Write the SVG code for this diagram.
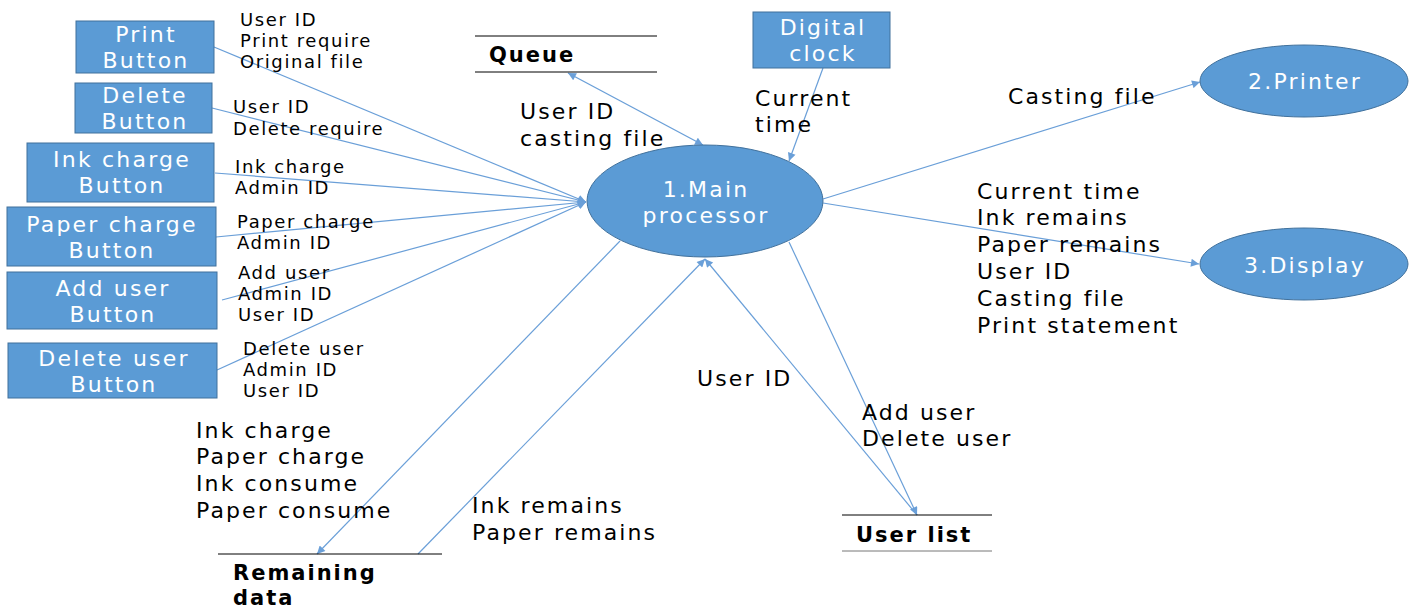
<svg xmlns="http://www.w3.org/2000/svg" width="1419" height="615" viewBox="0 0 1419 615">
<defs>
<style>
.box{fill:#5B9BD5;stroke:#41719C;stroke-width:1}
.btn{fill:#fff;font-family:"DejaVu Sans","Noto Sans",sans-serif;font-size:22px;letter-spacing:2.2px;text-anchor:middle}
.sm{fill:#000;font-family:"DejaVu Sans","Noto Sans",sans-serif;font-size:18px;letter-spacing:1.6px}
.lg{fill:#000;font-family:"DejaVu Sans","Noto Sans",sans-serif;font-size:22px;letter-spacing:2.1px}
.bd{fill:#000;font-family:"DejaVu Sans","Noto Sans",sans-serif;font-size:21px;font-weight:bold;letter-spacing:2px}
.flow{stroke:#6A9FD8;stroke-width:1.2;fill:none}
.store{stroke:#000;stroke-width:1}
</style>
<marker id="ah" viewBox="0 0 10 10" refX="10" refY="5" markerWidth="10" markerHeight="8" markerUnits="userSpaceOnUse" orient="auto-start-reverse">
<path d="M0,0 L10,5 L0,10 z" fill="#6A9FD8"/>
</marker>
</defs>
<rect width="1419" height="615" fill="#fff"/>

<g id="connectors">
<line class="flow" x1="214" y1="47" x2="586" y2="202" marker-end="url(#ah)"/>
<line class="flow" x1="212" y1="108" x2="586" y2="202" marker-end="url(#ah)"/>
<line class="flow" x1="215" y1="173" x2="586" y2="202" marker-end="url(#ah)"/>
<line class="flow" x1="216" y1="237" x2="586" y2="202" marker-end="url(#ah)"/>
<line class="flow" x1="222" y1="300" x2="586" y2="202" marker-end="url(#ah)"/>
<line class="flow" x1="217" y1="370" x2="586" y2="202" marker-end="url(#ah)"/>
<line class="flow" x1="568" y1="73" x2="703" y2="145" marker-start="url(#ah)" marker-end="url(#ah)"/>
<line class="flow" x1="823" y1="68" x2="789" y2="161" marker-end="url(#ah)"/>
<line class="flow" x1="823" y1="199" x2="1200" y2="82" marker-end="url(#ah)"/>
<line class="flow" x1="823" y1="203" x2="1199" y2="264" marker-end="url(#ah)"/>
<line class="flow" x1="620" y1="241" x2="317" y2="554" marker-end="url(#ah)"/>
<line class="flow" x1="418" y1="554" x2="705" y2="259" marker-end="url(#ah)"/>
<line class="flow" x1="917" y1="515" x2="705" y2="259" marker-end="url(#ah)"/>
<line class="flow" x1="789" y1="242" x2="917" y2="515" marker-end="url(#ah)"/>
</g>

<g id="print-button">
<rect class="box" x="76" y="21" width="138" height="52"/>
<text class="btn" x="146" y="42">Print</text>
<text class="btn" x="146" y="68">Button</text>
</g>
<g id="delete-button">
<rect class="box" x="75" y="83" width="137" height="50"/>
<text class="btn" x="145" y="103">Delete</text>
<text class="btn" x="145" y="129">Button</text>
</g>
<g id="ink-charge-button">
<rect class="box" x="27" y="143" width="187" height="59"/>
<text class="btn" x="122" y="167">Ink charge</text>
<text class="btn" x="122" y="193">Button</text>
</g>
<g id="paper-charge-button">
<rect class="box" x="7" y="207" width="209" height="59"/>
<text class="btn" x="112" y="232">Paper charge</text>
<text class="btn" x="112" y="258">Button</text>
</g>
<g id="add-user-button">
<rect class="box" x="7" y="272" width="210" height="57"/>
<text class="btn" x="113" y="296">Add user</text>
<text class="btn" x="113" y="322">Button</text>
</g>
<g id="delete-user-button">
<rect class="box" x="8" y="343" width="209" height="55"/>
<text class="btn" x="114" y="366">Delete user</text>
<text class="btn" x="114" y="392">Button</text>
</g>
<g id="digital-clock">
<rect class="box" x="753" y="12" width="137" height="56"/>
<text class="btn" x="823" y="35">Digital</text>
<text class="btn" x="823" y="61">clock</text>
</g>
<g id="main-processor">
<ellipse class="box" cx="705" cy="201" rx="118" ry="56"/>
<text class="btn" x="706" y="197">1.Main</text>
<text class="btn" x="706" y="223">processor</text>
</g>
<g id="printer">
<ellipse class="box" cx="1304" cy="81" rx="104" ry="36"/>
<text class="btn" x="1305" y="89">2.Printer</text>
</g>
<g id="display">
<ellipse class="box" cx="1304" cy="264" rx="104" ry="36"/>
<text class="btn" x="1305" y="273">3.Display</text>
</g>
<g id="queue">
<line class="store" x1="475" y1="36" x2="657" y2="36"/>
<line class="store" x1="475" y1="72" x2="657" y2="72"/>
<text class="bd" x="489" y="62">Queue</text>
</g>
<g id="remaining-data">
<line class="store" x1="218" y1="554" x2="442" y2="554"/>
<text class="bd" x="233" y="580">Remaining</text>
<text class="bd" x="233" y="605">data</text>
</g>
<g id="user-list">
<line class="store" x1="842" y1="515" x2="992" y2="515"/>
<line x1="842" y1="551" x2="992" y2="551" stroke="#777" stroke-width="1"/>
<text class="bd" x="856" y="542">User list</text>
</g>

<g id="labels">
<text class="sm" x="240" y="26">User ID</text>
<text class="sm" x="240" y="47">Print require</text>
<text class="sm" x="240" y="68">Original file</text>
<text class="sm" x="233" y="113">User ID</text>
<text class="sm" x="233" y="135">Delete require</text>
<text class="sm" x="235" y="173">Ink charge</text>
<text class="sm" x="235" y="194">Admin ID</text>
<text class="sm" x="237" y="228">Paper charge</text>
<text class="sm" x="237" y="249">Admin ID</text>
<text class="sm" x="238" y="279">Add user</text>
<text class="sm" x="238" y="300">Admin ID</text>
<text class="sm" x="238" y="321">User ID</text>
<text class="sm" x="243" y="355">Delete user</text>
<text class="sm" x="243" y="376">Admin ID</text>
<text class="sm" x="243" y="397">User ID</text>
<text class="lg" x="520" y="119">User ID</text>
<text class="lg" x="520" y="146">casting file</text>
<text class="lg" x="755" y="106">Current</text>
<text class="lg" x="755" y="132">time</text>
<text class="lg" x="1008" y="104">Casting file</text>
<text class="lg" x="977" y="199">Current time</text>
<text class="lg" x="977" y="225">Ink remains</text>
<text class="lg" x="977" y="252">Paper remains</text>
<text class="lg" x="977" y="279">User ID</text>
<text class="lg" x="977" y="306">Casting file</text>
<text class="lg" x="977" y="333">Print statement</text>
<text class="lg" x="196" y="438">Ink charge</text>
<text class="lg" x="196" y="464">Paper charge</text>
<text class="lg" x="196" y="491">Ink consume</text>
<text class="lg" x="196" y="518">Paper consume</text>
<text class="lg" x="472" y="513">Ink remains</text>
<text class="lg" x="472" y="540">Paper remains</text>
<text class="lg" x="697" y="386">User ID</text>
<text class="lg" x="862" y="420">Add user</text>
<text class="lg" x="862" y="446">Delete user</text>
</g>
</svg>
